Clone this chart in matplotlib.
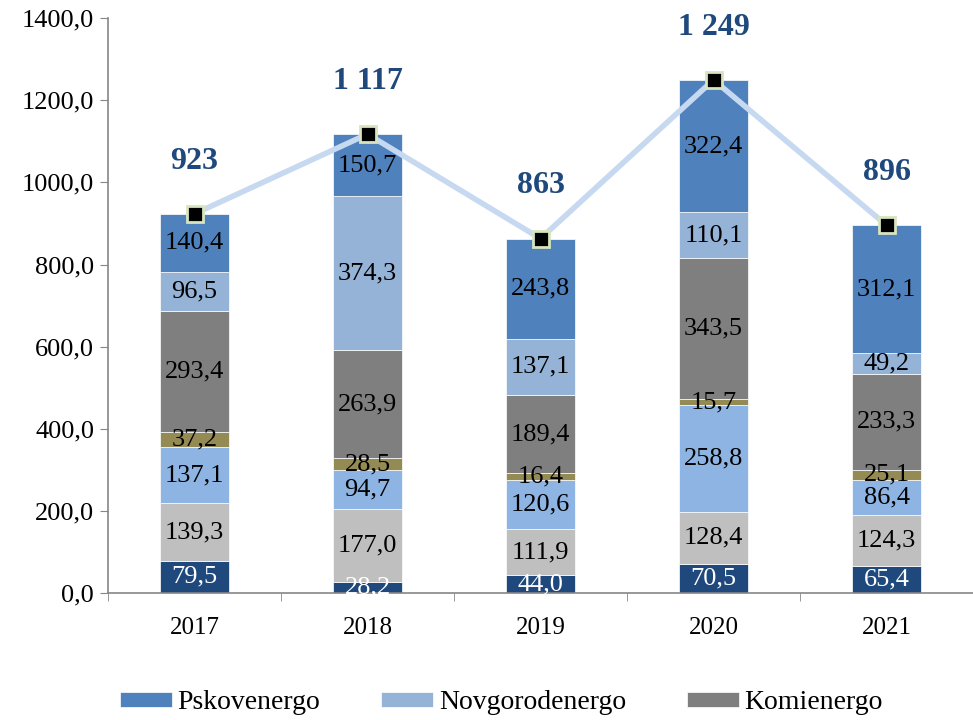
import matplotlib.pyplot as plt
import numpy as np

plt.rcParams['font.family'] = ['Liberation Serif', 'DejaVu Serif']

years = ['2017', '2018', '2019', '2020', '2021']

# stacked segments, bottom to top
seg1 = [79.5, 28.2, 44.0, 70.5, 65.4]
seg2 = [139.3, 177.0, 111.9, 128.4, 124.3]
seg3 = [137.1, 94.7, 120.6, 258.8, 86.4]
seg4 = [37.2, 28.5, 16.4, 15.7, 25.1]
komienergo = [293.4, 263.9, 189.4, 343.5, 233.3]
novgorodenergo = [96.5, 374.3, 137.1, 110.1, 49.2]
pskovenergo = [140.4, 150.7, 243.8, 322.4, 312.1]

totals = [923.4, 1117.3, 863.2, 1249.4, 895.8]
total_labels = ['923', '1 117', '863', '1 249', '896']

series = [
    (seg1, '#1F497D', None, 'white'),
    (seg2, '#BFBFBF', None, 'black'),
    (seg3, '#8DB4E2', None, 'black'),
    (seg4, '#948A54', None, 'black'),
    (komienergo, '#7F7F7F', 'Komienergo', 'black'),
    (novgorodenergo, '#95B3D7', 'Novgorodenergo', 'black'),
    (pskovenergo, '#4F81BD', 'Pskovenergo', 'black'),
]

fig = plt.figure(figsize=(9.73, 7.2), dpi=100)
ax = fig.add_axes([0.111, 0.176, 0.889, 0.799])

x = np.arange(len(years))
bottom = np.zeros(len(years))
handles = {}
for vals, color, name, tcol in series:
    bars = ax.bar(x, vals, width=0.4, bottom=bottom, color=color,
                  edgecolor='white', linewidth=0.5, zorder=2)
    for xi, b, v in zip(x, bottom, vals):
        ax.text(xi, b + v / 2, f'{v:.1f}'.replace('.', ','), ha='center',
                va='center', fontsize=19, color=tcol, zorder=3)
    if name:
        handles[name] = bars
    bottom += np.array(vals)

ax.plot(x, totals, color='#C6D9F1', linewidth=4, zorder=4)
ax.plot(x, totals, linestyle='none', marker='s', markersize=12,
        markerfacecolor='black', markeredgecolor='#D7E4BD',
        markeredgewidth=2, zorder=5)
for xi, t, lab in zip(x, totals, total_labels):
    ax.annotate(lab, (xi, t), xytext=(0, 38), textcoords='offset points',
                ha='center', va='center', fontsize=23, fontweight='bold',
                color='#1F497D', annotation_clip=False)

ax.set_xlim(-0.5, len(years) - 0.5)
ax.set_ylim(0, 1400)
ax.set_yticks(np.arange(0, 1401, 200))
ax.set_yticklabels([f'{v:.1f}'.replace('.', ',') for v in np.arange(0, 1401, 200)])
ax.set_xticks(x)
ax.set_xticklabels(years)
ax.set_xticks(np.arange(-0.5, len(years), 1), minor=True)
ax.tick_params(axis='x', which='major', length=0, labelsize=18, pad=17)
ax.tick_params(axis='x', which='minor', length=6, color='#868686', direction='out')
ax.tick_params(axis='y', labelsize=19, length=6, color='#868686', pad=4)

for s in ['top', 'right']:
    ax.spines[s].set_visible(False)
for s in ['left', 'bottom']:
    ax.spines[s].set_color('#868686')
    ax.spines[s].set_linewidth(1.2)

order = ['Pskovenergo', 'Novgorodenergo', 'Komienergo']
fig.legend([handles[n] for n in order], order, loc='center left',
           bbox_to_anchor=(0.109, 0.024), ncol=3, frameon=False, fontsize=20,
           borderpad=0, handlelength=1.87, handleheight=0.45,
           handletextpad=0.2, columnspacing=2.2)

fig.savefig('out.png', dpi=100)
